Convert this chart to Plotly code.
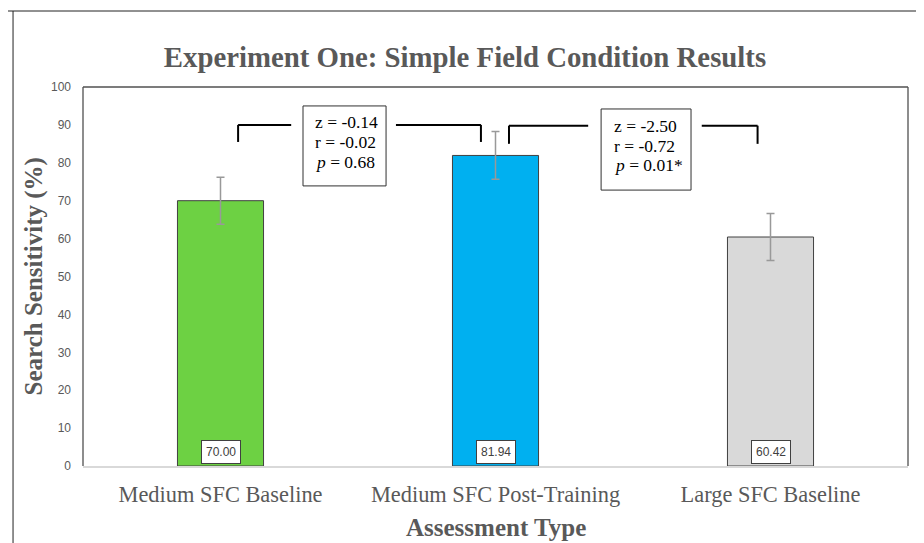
import plotly.graph_objects as go

# ---- data ----
categories = ["Medium SFC Baseline", "Medium SFC Post-Training", "Large SFC Baseline"]
means = [70.00, 81.94, 60.42]
errors = [6.2, 6.3, 6.2]
bar_colors = ["#6DD143", "#00B0F0", "#D9D9D9"]
value_labels = ["70.00", "81.94", "60.42"]
y_ticks = [0, 10, 20, 30, 40, 50, 60, 70, 80, 90, 100]

comp1_lines = ["z = -0.14", "r = -0.02", "<i>p</i> = 0.68"]
comp2_lines = ["z = -2.50", "r = -0.72", "<i>p</i> = 0.01*"]

SERIF = "Liberation Serif, Times New Roman, serif"
SANS = "Liberation Sans, Arial, sans-serif"
GREY = "#595959"

fig = go.Figure()
fig.add_trace(go.Bar(
    x=list(range(len(categories))), y=means,
    width=0.313,
    marker=dict(color=bar_colors, line=dict(color="#404040", width=1)),
    error_y=dict(type="data", array=errors, visible=True,
                 color="#999999", thickness=1.5, width=4),
    showlegend=False, hoverinfo="skip",
))

shapes = []
# plot frame: left, top, right (dark), bottom is the axis line (light)
for x0, y0, x1, y1 in [(0, 0, 0, 1), (0, 1, 1, 1), (1, 1, 1, 0)]:
    shapes.append(dict(type="line", xref="paper", yref="paper",
                       x0=x0, y0=y0, x1=x1, y1=y1,
                       line=dict(color="#505050", width=1.3)))
# outer chart frame (left and top edges visible)
shapes.append(dict(type="line", xref="paper", yref="paper",
                   x0=-0.0848, y0=-0.3, x1=-0.0848, y1=1.2005,
                   line=dict(color="#222222", width=1)))
shapes.append(dict(type="line", xref="paper", yref="paper",
                   x0=-0.095, y0=1.2005, x1=1.05, y1=1.2005,
                   line=dict(color="#222222", width=1)))

def bracket(xa, xb, gap_l, gap_r, ytop, ybot):
    br = dict(color="black", width=2)
    s = []
    s.append(dict(type="line", xref="x", yref="y", x0=xa, y0=ybot, x1=xa, y1=ytop, line=br))
    s.append(dict(type="line", xref="x", yref="y", x0=xa, y0=ytop, x1=gap_l, y1=ytop, line=br))
    s.append(dict(type="line", xref="x", yref="y", x0=gap_r, y0=ytop, x1=xb, y1=ytop, line=br))
    s.append(dict(type="line", xref="x", yref="y", x0=xb, y0=ytop, x1=xb, y1=ybot, line=br))
    return s

shapes += bracket(0.064, 0.947, 0.257, 0.638, 90.0, 85.5)
shapes += bracket(1.049, 1.953, 1.337, 1.750, 89.8, 85.0)
# stats boxes
shapes.append(dict(type="rect", xref="x", yref="y", x0=0.300, x1=0.602, y0=73.9, y1=95.0,
                   line=dict(color="#303030", width=1), fillcolor="white"))
shapes.append(dict(type="rect", xref="x", yref="y", x0=1.384, x1=1.711, y0=72.8, y1=94.2,
                   line=dict(color="#303030", width=1), fillcolor="white"))

annotations = []
for ys, x0, lines in [([90.8, 85.5, 80.2], 0.336, comp1_lines),
                      ([89.8, 84.4, 79.4], 1.424, comp2_lines)]:
    for yv, t in zip(ys, lines):
        annotations.append(dict(x=x0, y=yv, xref="x", yref="y", text=t, showarrow=False,
                                xanchor="left", yanchor="middle",
                                font=dict(family=SERIF, size=17.5, color="black")))

for i, lab in enumerate(value_labels):
    annotations.append(dict(x=i, y=3.7, xref="x", yref="y", text=lab, showarrow=False,
                            xanchor="center", yanchor="middle",
                            bgcolor="white", bordercolor="#404040", borderwidth=1, borderpad=4,
                            font=dict(family=SANS, size=12, color="#404040")))

annotations.append(dict(x=-0.0606, y=0.5, xref="paper", yref="paper",
                        text="<b>Search Sensitivity (%)</b>", showarrow=False, textangle=-90,
                        xanchor="center", yanchor="middle",
                        font=dict(family=SERIF, size=25, color=GREY)))
annotations.append(dict(x=0.5, y=-0.161, xref="paper", yref="paper",
                        text="<b>Assessment Type</b>", showarrow=False,
                        xanchor="center", yanchor="middle",
                        font=dict(family=SERIF, size=25, color=GREY)))

fig.update_layout(
    width=924, height=543,
    margin=dict(l=75, r=24, t=79, b=85),
    paper_bgcolor="white", plot_bgcolor="white",
    title=dict(text="<b>Experiment One: Simple Field Condition Results</b>",
               x=457 / 924, xanchor="center", xref="container",
               y=1 - 49 / 543, yanchor="middle", yref="container",
               font=dict(family=SERIF, size=28.8, color=GREY)),
    shapes=shapes, annotations=annotations,
    xaxis=dict(range=[-0.5, 2.5], tickmode="array", tickvals=list(range(len(categories))),
               ticktext=categories, showgrid=False, zeroline=False,
               showline=True, linecolor="#D9D9D9", linewidth=1.5, ticks="",
               tickfont=dict(family=SERIF, size=22.4, color=GREY), ticklabelstandoff=7),
    yaxis=dict(range=[0, 100], tickmode="array", tickvals=y_ticks, showgrid=False,
               zeroline=False, showline=False, ticks="",
               tickfont=dict(family=SANS, size=12, color=GREY), ticklabelstandoff=11),
)

fig.write_html("out.html")
